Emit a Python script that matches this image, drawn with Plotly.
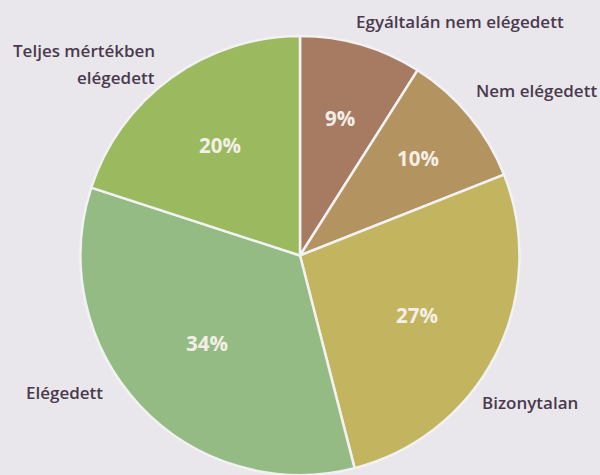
import math
import plotly.graph_objects as go

categories = ["Egyáltalán nem elégedett", "Nem elégedett", "Bizonytalan", "Elégedett", "Teljes mértékben elégedett"]
values = [9, 10, 27, 34, 20]
slice_colors = ["#a77b62", "#b3935f", "#c3b45f", "#95bb85", "#9bba5f"]
label_lines = [["Egyáltalán nem elégedett"], ["Nem elégedett"], ["Bizonytalan"], ["Elégedett"], ["Teljes mértékben", "elégedett"]]

# layout (pixels): label anchors, alignment, line spacing
label_pos = [(460, 22, "center"), (536, 90, "center"), (530, 402, "center"), (64, 392, "center"), (157, 51, "right")]
line_gap = 26
pct_radius = [0.65, 0.70, 0.60, 0.58, 0.62]

W, H = 600, 475
pie_left, pie_right, pie_top = 80, 520, 36
fig = go.Figure()
fig.add_trace(go.Pie(
    labels=categories,
    values=values,
    sort=False,
    direction="clockwise",
    rotation=0,
    marker=dict(colors=slice_colors, line=dict(color="#f2f1f3", width=2.5)),
    textinfo="none",
    domain=dict(x=[pie_left / W, pie_right / W], y=[0.0, 1 - pie_top / H]),
    showlegend=False,
    hoverinfo="label+percent",
))

# percentage labels placed at each slice's mid-angle
cx = (pie_left + pie_right) / 2
cy = H - (1 - pie_top / H) * H / 2
R = min(pie_right - pie_left, H - pie_top) / 2
total = sum(values)
cum = 0
for v, rf in zip(values, pct_radius):
    mid = (cum + v / 2) / total * 2 * math.pi
    cum += v
    px = cx + rf * R * math.sin(mid)
    py = cy - rf * R * math.cos(mid)
    fig.add_annotation(
        x=px / W, y=1 - py / H, xref="paper", yref="paper",
        text=f"{v}%", showarrow=False, xanchor="center", yanchor="middle",
        font=dict(family="Open Sans", size=20.5, color="#f3efe6", weight=700),
    )

for lines, (px, py, al) in zip(label_lines, label_pos):
    for i, line in enumerate(lines):
        fig.add_annotation(
            x=px / W, y=1 - (py + i * line_gap) / H, xref="paper", yref="paper",
            text=line, showarrow=False,
            xanchor=al, yanchor="middle", align=al,
            font=dict(family="Open Sans", size=17, color="#4b3a4e", weight=600),
        )

fig.update_layout(
    width=W, height=H,
    margin=dict(l=0, r=0, t=0, b=0),
    paper_bgcolor="#e9e7ec",
    plot_bgcolor="#e9e7ec",
)
fig.write_html("out.html")
